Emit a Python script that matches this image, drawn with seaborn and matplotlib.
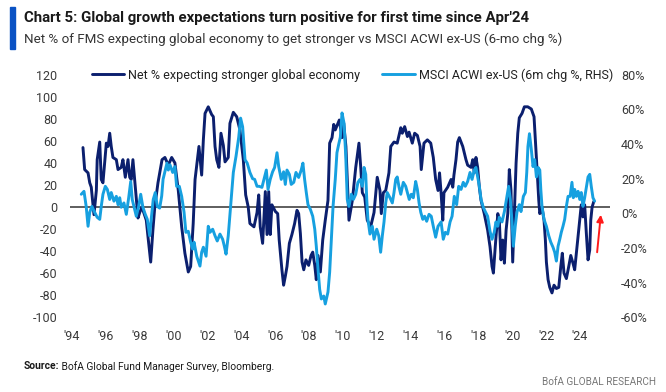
import numpy as np
import pandas as pd
import seaborn as sns
import matplotlib.pyplot as plt
from matplotlib.patches import Rectangle

# FMS: net % expecting a stronger global economy (LHS)
fms_year = [1994.65, 1994.75, 1994.95, 1995.05, 1995.14, 1995.30, 1995.44, 1995.49, 1995.64, 1995.73,
            1995.83, 1995.93, 1996.03, 1996.13, 1996.23, 1996.32, 1996.42, 1996.62, 1996.72, 1996.91,
            1997.01, 1997.15, 1997.31, 1997.41, 1997.50, 1997.60, 1997.70, 1997.80, 1997.90, 1998.00,
            1998.13, 1998.39, 1998.49, 1998.65, 1998.78, 1998.89, 1999.08, 1999.32, 1999.49, 1999.69,
            1999.89, 2000.08, 2000.28, 2000.48, 2000.67, 2000.87, 2001.01, 2001.16, 2001.27, 2001.37,
            2001.50, 2001.66, 2001.76, 2001.86, 2002.05, 2002.25, 2002.35, 2002.45, 2002.55, 2002.68,
            2002.80, 2002.94, 2003.04, 2003.23, 2003.33, 2003.53, 2003.73, 2003.92, 2004.12, 2004.26,
            2004.41, 2004.51, 2004.75, 2004.93, 2005.03, 2005.12, 2005.26, 2005.42, 2005.52, 2005.62,
            2005.71, 2005.81, 2006.01, 2006.15, 2006.24, 2006.40, 2006.50, 2006.60, 2006.70, 2006.84,
            2006.99, 2007.15, 2007.29, 2007.39, 2007.49, 2007.59, 2007.69, 2007.82, 2007.98, 2008.12,
            2008.22, 2008.34, 2008.43, 2008.53, 2008.67, 2008.81, 2008.96, 2009.12, 2009.22, 2009.36,
            2009.46, 2009.55, 2009.79, 2009.95, 2010.05, 2010.18, 2010.36, 2010.56, 2010.76, 2010.95,
            2011.05, 2011.15, 2011.29, 2011.44, 2011.64, 2011.84, 2012.03, 2012.19, 2012.27, 2012.39,
            2012.53, 2012.72, 2012.83, 2013.02, 2013.21, 2013.42, 2013.51, 2013.65, 2013.81, 2013.91,
            2014.10, 2014.24, 2014.40, 2014.56, 2014.63, 2014.79, 2014.99, 2015.19, 2015.34, 2015.48,
            2015.62, 2015.71, 2015.80, 2015.90, 2015.97, 2016.19, 2016.39, 2016.49, 2016.56, 2016.68,
            2016.78, 2016.88, 2017.08, 2017.27, 2017.37, 2017.57, 2017.67, 2017.76, 2017.86, 2017.96,
            2018.06, 2018.16, 2018.35, 2018.55, 2018.69, 2018.81, 2018.89, 2019.00, 2019.15, 2019.24,
            2019.34, 2019.44, 2019.54, 2019.64, 2019.74, 2019.83, 2019.93, 2020.03, 2020.13, 2020.23,
            2020.33, 2020.42, 2020.58, 2020.72, 2020.92, 2021.13, 2021.29, 2021.37, 2021.48, 2021.57,
            2021.63, 2021.76, 2021.88, 2021.96, 2022.02, 2022.12, 2022.22, 2022.35, 2022.47, 2022.61,
            2022.75, 2022.87, 2022.96, 2023.06, 2023.20, 2023.34, 2023.46, 2023.59, 2023.69, 2023.79,
            2023.89, 2023.99, 2024.08, 2024.18, 2024.28, 2024.38, 2024.48, 2024.58, 2024.64, 2024.72,
            2024.82]
fms_net = [54, 34, 31, 22, 18, -7, 15, 43, 59, 25,
           22, 40, 58, 55, 67, 55, 45, 43, 34, 36,
           43, 27, 43, 27, 25, 43, 25, 6, -10, -5,
           0, -12, -27, -50, -21, 0, 22, 43, 45, 38,
           45, 40, 15, -18, -42, -59, -54, -15, 25, 38,
           55, 29, 61, 85, 91, 84, 82, 55, 43, 36,
           67, 56, 41, 45, 76, 86, 82, 70, 43, 11,
           0, -15, -18, -5, 11, -18, -33, 14, -25, 14,
           -25, 2, -4, -6, -30, -57, -71, -63, -54, -33,
           -25, -15, -3, -6, -24, -50, -57, -48, -53, -44,
           -41, -53, -66, -44, -59, -30, -12, 6, 58, 63,
           75, 70, 79, 63, 76, 55, -12, 6, 36, 58,
           37, 13, 9, -12, -18, -5, 27, 15, -6, 13,
           15, 31, 55, 59, 58, 72, 67, 73, 64, 68,
           58, 67, 65, 55, 34, 58, 61, 58, 45, 25,
           15, 31, 13, -12, 13, 18, 25, 18, 29, 43,
           59, 63, 55, 43, 38, 36, 43, 31, 45, 36,
           18, 6, -6, -21, -36, -54, -60, -36, -6, -12,
           -48, -30, -51, -21, -6, 34, 15, -50, -6, 40,
           67, 81, 85, 91, 91, 89, 82, 61, 31, 6,
           -6, 0, -12, -30, -50, -66, -73, -78, -71, -74,
           -73, -54, -42, -60, -65, -54, -44, -51, -57, -42,
           -27, -12, 2, -9, 2, -24, -48, -39, -12, 0,
           5]

# MSCI ACWI ex-US, 6m % change (RHS)
acwi_year = [1994.55, 1994.71, 1994.84, 1994.95, 1995.05, 1995.18, 1995.34, 1995.49, 1995.64, 1995.73,
             1995.83, 1995.97, 1996.09, 1996.23, 1996.32, 1996.48, 1996.62, 1996.72, 1996.82, 1996.91,
             1997.07, 1997.21, 1997.35, 1997.47, 1997.56, 1997.66, 1997.80, 1997.94, 1998.06, 1998.19,
             1998.33, 1998.45, 1998.59, 1998.68, 1998.80, 1998.92, 1999.04, 1999.18, 1999.30, 1999.38,
             1999.61, 1999.69, 1999.79, 1999.95, 2000.08, 2000.18, 2000.34, 2000.48, 2000.62, 2000.73,
             2000.87, 2001.01, 2001.13, 2001.21, 2001.37, 2001.56, 2001.66, 2001.76, 2001.92, 2002.05,
             2002.15, 2002.31, 2002.45, 2002.58, 2002.74, 2002.90, 2003.00, 2003.10, 2003.23, 2003.37,
             2003.53, 2003.69, 2003.85, 2003.96, 2004.08, 2004.22, 2004.35, 2004.51, 2004.67, 2004.79,
             2004.93, 2005.06, 2005.22, 2005.38, 2005.48, 2005.58, 2005.71, 2005.85, 2005.97, 2006.11,
             2006.21, 2006.36, 2006.50, 2006.60, 2006.70, 2006.84, 2006.95, 2007.10, 2007.23, 2007.39,
             2007.54, 2007.64, 2007.74, 2007.84, 2007.94, 2008.08, 2008.22, 2008.34, 2008.43, 2008.53,
             2008.63, 2008.73, 2008.87, 2008.96, 2009.12, 2009.22, 2009.32, 2009.42, 2009.55, 2009.65,
             2009.75, 2009.85, 2009.95, 2010.07, 2010.17, 2010.26, 2010.36, 2010.50, 2010.62, 2010.76,
             2010.89, 2011.01, 2011.15, 2011.25, 2011.35, 2011.41, 2011.48, 2011.60, 2011.74, 2011.84,
             2012.00, 2012.12, 2012.23, 2012.33, 2012.43, 2012.53, 2012.62, 2012.78, 2012.92, 2013.02,
             2013.12, 2013.21, 2013.32, 2013.42, 2013.57, 2013.71, 2013.81, 2013.92, 2014.04, 2014.16,
             2014.30, 2014.40, 2014.50, 2014.60, 2014.72, 2014.83, 2014.95, 2015.09, 2015.22, 2015.34,
             2015.48, 2015.62, 2015.80, 2015.93, 2016.05, 2016.19, 2016.33, 2016.45, 2016.58, 2016.72,
             2016.84, 2016.98, 2017.11, 2017.23, 2017.37, 2017.51, 2017.63, 2017.76, 2017.86, 2017.96,
             2018.06, 2018.16, 2018.29, 2018.41, 2018.55, 2018.69, 2018.81, 2018.94, 2019.04, 2019.15,
             2019.24, 2019.40, 2019.54, 2019.68, 2019.79, 2019.89, 2019.99, 2020.07, 2020.18, 2020.28,
             2020.42, 2020.52, 2020.66, 2020.78, 2020.86, 2020.93, 2021.02, 2021.13, 2021.23, 2021.33,
             2021.43, 2021.53, 2021.63, 2021.69, 2021.76, 2021.88, 2022.02, 2022.16, 2022.28, 2022.41,
             2022.51, 2022.61, 2022.71, 2022.81, 2022.90, 2023.00, 2023.10, 2023.20, 2023.30, 2023.42,
             2023.53, 2023.61, 2023.69, 2023.79, 2023.89, 2023.99, 2024.08, 2024.18, 2024.28, 2024.38,
             2024.48, 2024.58, 2024.67, 2024.77, 2024.87]
acwi_chg = [11, 12.7, 4, -7.5, 0.6, 4, 0.6, -2.3, -3.5, 4,
            11, 15.6, 13.8, 8, 12, 7, 9.8, 5, 9, 3.5,
            6, -0.6, 9, 18.4, 8, 4, -1.7, 4, 11, 3.5,
            -0.6, -3.5, -13, -3.5, 8, 12, 4, 3, 10, 19.6,
            29, 25, 28, 23.6, 27, 15.6, 15.6, 9.8, 0.6, -11,
            -10.4, -16.7, -20.7, -16.7, -24.8, -30.5, -22.5, -19.6, -24.8, -7.5,
            -11, -9.2, -13, -16, -12, -15, -19, -23.6, -13, 4,
            23.6, 33, 44, 55, 50, 31, 29, 23.6, 20, 19.6,
            15.6, 15.6, 15, 21, 25, 13.8, 19.6, 24, 26.5, 35,
            27, 19.6, 24, 16.7, 25, 22.5, 16.7, 17.9, 23.6, 20.7,
            25, 29, 19.6, 12, 5, 2.3, -1.7, -9.2, -19, -32,
            -44, -49.5, -47.8, -52.4, -45.5, -34, -15, 4, 19.6, 35,
            39.7, 44, 58, 52, 33, 8, 4, 11, 8, 11,
            17.9, 19.6, 15.6, 26.5, 22.5, 8, -3.5, -12, -7.5, -15,
            -9.2, -13, -22.5, -13, -5, 6, 12, 9, 6, 12,
            19.6, 21, 15, 11, 17.9, 15.6, 12, 8, 11, 9,
            18.4, 13.8, 6, 0.6, -3.5, -1.7, -4.6, -0.6, -1.7, -7.5,
            -13.8, -7.5, -5, -15, -11, -12, -5, -1.7, 9.8, 5,
            15.6, 13.8, 17.9, 15.6, 18.4, 23.6, 19.6, 25, 26.5, 21,
            15.6, 8, 3.5, 1, -1.7, -10.4, -15, -11, -5, -7.5,
            -2.3, -5, 1, 9, 15.6, 8, -5, -19, -7.5, 0.6,
            5, 1, 9.8, 12, 23.6, 38.6, 46, 36.9, 27, 31,
            21, 26.5, 25, 13.8, 4, -3.5, -7.5, -13, -16.7, -19.6,
            -22.5, -27.6, -19, -15, -11, -7.5, -3.5, 4, 9.8, 9.8,
            17.9, 9, 13.8, 9.8, 12.7, 8, 12, 4, 9, 15,
            21, 22.5, 15.6, 9, 7]

xtick_years = list(range(1994, 2025, 2))
xtick_labels = ["'" + str(y)[2:] for y in xtick_years]
left_ticks = list(range(-100, 121, 20))
right_ticks = list(range(-60, 81, 20))

navy = '#0b1f6e'
sky = '#16a0e0'

sns.set_theme(style='white')
plt.rcParams['font.family'] = ['Roboto', 'DejaVu Sans']
plt.rcParams['axes.unicode_minus'] = False

fms = pd.DataFrame({'year': fms_year, 'net': fms_net})
acwi = pd.DataFrame({'year': acwi_year, 'chg': acwi_chg})

fig = plt.figure(figsize=(6.66, 3.92), dpi=100)
ax = fig.add_axes([0.105, 0.191, 0.811, 0.618])
ax.axhline(0, color='#333333', lw=1.1, zorder=1)
sns.lineplot(data=fms, x='year', y='net', ax=ax, color=navy, lw=2.1,
             label='Net % expecting stronger global economy', legend=False)
ax2 = ax.twinx()
sns.lineplot(data=acwi, x='year', y='chg', ax=ax2, color=sky, lw=2.1,
             label='MSCI ACWI ex-US (6m chg %, RHS)', legend=False)

ax.set_xlim(1993.88, 2025.78)
ax.set_ylim(-100, 120)
ax2.set_ylim(-60, 80)
ax.set_xticks(xtick_years)
ax.set_xticklabels(xtick_labels)
ax.set_yticks(left_ticks)
ax2.set_yticks(right_ticks)
ax2.set_yticklabels([f'{v}%' for v in right_ticks])
for a in (ax, ax2):
    a.set_xlabel('')
    a.set_ylabel('')
    for s in a.spines.values():
        s.set_visible(False)
    a.tick_params(length=0, labelsize=9, labelcolor='#3a3a3a')
ax.tick_params(axis='y', pad=9)
ax.tick_params(axis='x', pad=9)
ax2.tick_params(axis='y', pad=8)

# red arrow pointing at the latest reading
ax.annotate('', xy=(2025.25, -4.5), xytext=(2025.0, -43.6),
            arrowprops=dict(arrowstyle='-|>', color='#ff1a1a', lw=1.4, mutation_scale=10))

h1, l1 = ax.get_legend_handles_labels()
h2, l2 = ax2.get_legend_handles_labels()
fig.legend(h1 + h2, l1 + l2, loc='center', bbox_to_anchor=(0.529, 0.809), ncol=2,
           frameon=False, fontsize=9, handlelength=2.6, handletextpad=0.3,
           columnspacing=1.8, labelcolor='#222222')

fig.patches.append(Rectangle((0.015, 0.875), 0.0075, 0.107, transform=fig.transFigure,
                             color='#0a52c4'))
fig.text(0.036, 0.954, "Chart 5: Global growth expectations turn positive for first time since Apr'24",
         fontsize=10.8, weight='bold', color='#1a1a1a', va='center')
fig.text(0.036, 0.9, 'Net % of FMS expecting global economy to get stronger vs MSCI ACWI ex-US (6-mo chg %)',
         fontsize=9.6, color='#333333', va='center')

src = fig.text(0.036, 0.066, 'Source:', fontsize=7.4, weight='bold', color='#1a1a1a', va='center')
fig.canvas.draw()
bb = src.get_window_extent()
fig.text(bb.x1 / fig.bbox.width, 0.066, ' BofA Global Fund Manager Survey, Bloomberg.',
         fontsize=7.4, color='#1a1a1a', va='center')
fig.text(0.985, 0.026, 'BofA GLOBAL RESEARCH', fontsize=7.2, color='#777777', ha='right', va='center')

fig.savefig('out.png', dpi=100)
